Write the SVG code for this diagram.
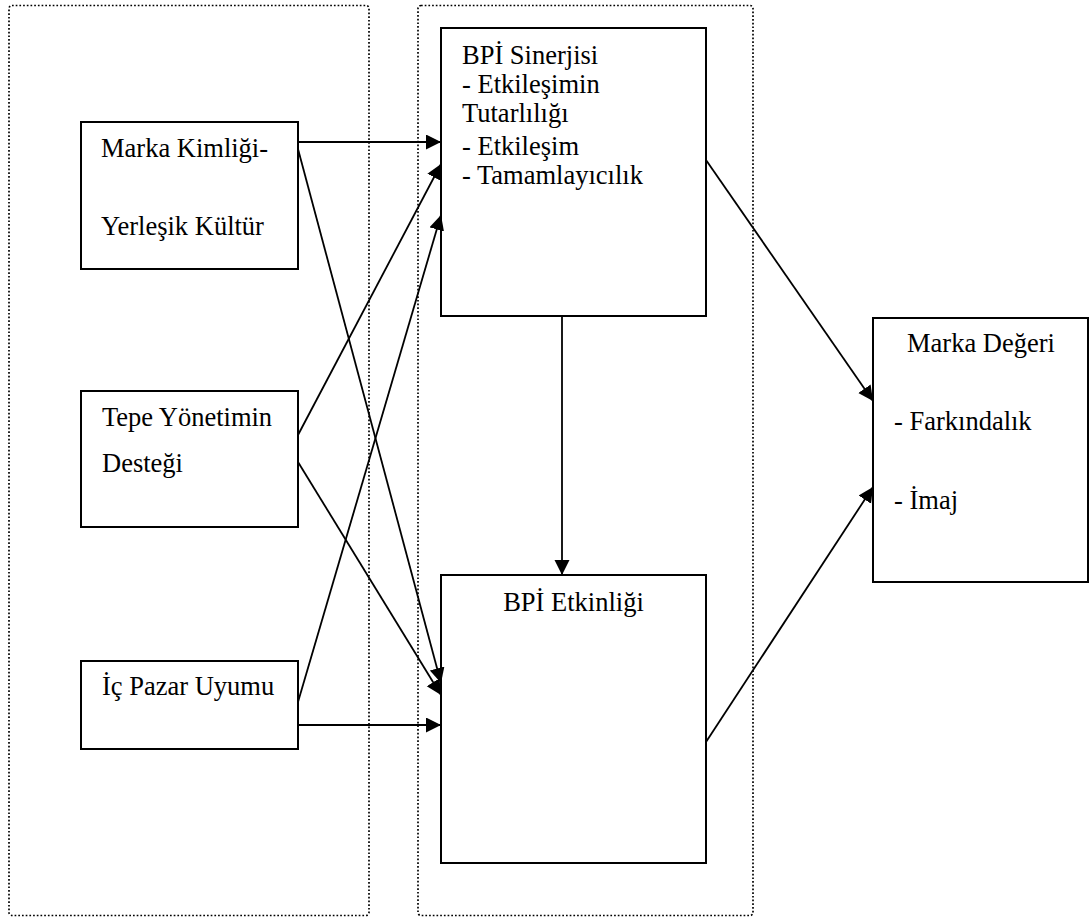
<svg xmlns="http://www.w3.org/2000/svg" width="1090" height="918" viewBox="0 0 1090 918">
  <style>
    .group { fill: none; stroke: #000; stroke-width: 1.7; stroke-dasharray: 1.7 2; }
    .box { fill: #fff; stroke: #000; stroke-width: 2; }
    text { font-family: 'Liberation Serif', Tinos, 'Times New Roman', serif; font-size: 26.5px; fill: #000; }
    .mid { text-anchor: middle; }
    .conn line { stroke: #000; stroke-width: 1.8; fill: none; marker-end: url(#arrow); }
  </style>
  <defs>
    <marker id="arrow" markerUnits="userSpaceOnUse" markerWidth="16" markerHeight="16" refX="15" refY="7.5" orient="auto">
      <path d="M0,0 L15,7.5 L0,15 z" fill="#000"/>
    </marker>
  </defs>
  <rect width="1090" height="918" fill="#fff"/>

  <!-- dotted grouping frames -->
  <g id="frames">
    <rect class="group" x="9" y="5.5" width="360" height="910" rx="3"/>
    <rect class="group" x="418" y="5.5" width="335" height="910" rx="3"/>
  </g>

  <!-- left column: antecedents -->
  <g id="marka-kimligi">
    <rect class="box" x="81" y="122" width="217" height="147"/>
    <text x="101" y="157">Marka Kimliği-</text>
    <text x="101" y="235">Yerleşik Kültür</text>
  </g>
  <g id="tepe-yonetim">
    <rect class="box" x="81" y="391" width="217" height="136"/>
    <text x="102" y="426">Tepe Yönetimin</text>
    <text x="102" y="472">Desteği</text>
  </g>
  <g id="ic-pazar">
    <rect class="box" x="81" y="661" width="217" height="88"/>
    <text x="102" y="695">İç Pazar Uyumu</text>
  </g>

  <!-- middle column -->
  <g id="bpi-sinerjisi">
    <rect class="box" x="441" y="28" width="265" height="288"/>
    <text x="462" y="64">BPİ Sinerjisi</text>
    <text x="462" y="93">- Etkileşimin</text>
    <text x="462" y="122">Tutarlılığı</text>
    <text x="462" y="155">- Etkileşim</text>
    <text x="462" y="184">- Tamamlayıcılık</text>
  </g>
  <g id="bpi-etkinligi">
    <rect class="box" x="441" y="575" width="265" height="288"/>
    <text class="mid" x="573.5" y="611">BPİ Etkinliği</text>
  </g>

  <!-- right: outcome -->
  <g id="marka-degeri">
    <rect class="box" x="873" y="318" width="215" height="264"/>
    <text class="mid" x="981" y="352">Marka Değeri</text>
    <text x="894" y="430">- Farkındalık</text>
    <text x="894" y="509">- İmaj</text>
  </g>

  <!-- connectors -->
  <g id="connectors" class="conn">
    <line x1="298" y1="142" x2="441" y2="142"/>
    <line x1="298" y1="149" x2="441" y2="683"/>
    <line x1="298" y1="435" x2="441" y2="164"/>
    <line x1="298" y1="462" x2="441" y2="695"/>
    <line x1="298" y1="702" x2="441" y2="215"/>
    <line x1="298" y1="725" x2="441" y2="725"/>
    <line x1="562" y1="316" x2="562" y2="575"/>
    <line x1="706" y1="160" x2="873" y2="401"/>
    <line x1="706" y1="742" x2="873" y2="487"/>
  </g>
</svg>
